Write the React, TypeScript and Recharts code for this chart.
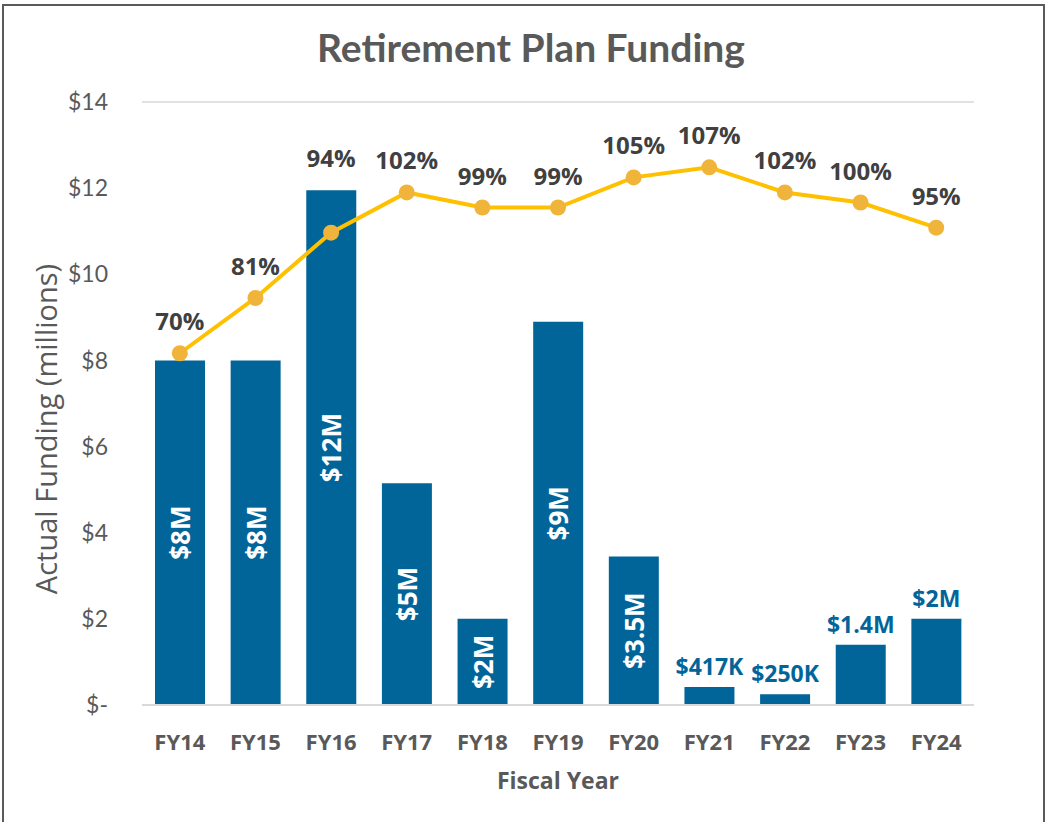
import { Bar, CartesianGrid, ComposedChart, LabelList, Line, XAxis, YAxis } from "recharts";

const years = ["FY14", "FY15", "FY16", "FY17", "FY18", "FY19", "FY20", "FY21", "FY22", "FY23", "FY24"];
const funding = [8, 8, 11.95, 5.15, 2, 8.9, 3.45, 0.417, 0.25, 1.4, 2];
const fundingLabels = ["$8M", "$8M", "$12M", "$5M", "$2M", "$9M", "$3.5M", "$417K", "$250K", "$1.4M", "$2M"];
const fundedPct = [70, 81, 94, 102, 99, 99, 105, 107, 102, 100, 95];
const yTicks = [0, 2, 4, 6, 8, 10, 12, 14];

// first N bars carry their label inside, rotated; the small ones get it on top
const INSIDE_LABELS = 7;
const Y_MAX = 14;
const PCT_MAX = 120;

const BLUE = "#02659A";
const GOLD = "#FFC000";
const DOT = "#F0B43A";
const GREY = "#595959";
const SANS = "'Open Sans', sans-serif";

const W = 1047;
const H = 822;
const M = { top: 102, right: 73, bottom: 45, left: 0 };
const X_AXIS_H = 72;
const PLOT_H = H - M.top - M.bottom - X_AXIS_H;

const data = years.map((fy, i) => ({ fy, funding: funding[i], pct: fundedPct[i] }));

function BarLabel(props: any) {
  const { x, y, width, height, index } = props;
  const text = fundingLabels[index];
  const cx = x + width / 2;
  if (index < INSIDE_LABELS) {
    const cy = y + height / 2;
    return (
      <text
        x={cx}
        y={cy}
        transform={`rotate(-90 ${cx} ${cy})`}
        textAnchor="middle"
        dominantBaseline="central"
        fill="#fff"
        fontFamily={SANS}
        fontWeight={700}
        fontSize={26}
      >
        {text}
      </text>
    );
  }
  return (
    <text x={cx} y={y - 12} textAnchor="middle" fill={BLUE} fontFamily={SANS} fontWeight={700} fontSize={23}>
      {text}
    </text>
  );
}

function PctLabel(props: any) {
  const { x, y, value, index } = props;
  // if the bar reaches above the point, lift the label over the bar
  const lift = Math.max(0, (funding[index] / Y_MAX - value / PCT_MAX) * PLOT_H);
  return (
    <text x={x} y={y - 23 - lift} textAnchor="middle" fill="#404040" fontFamily={SANS} fontWeight={700} fontSize={24}>
      {value}%
    </text>
  );
}

function YTitle() {
  return (
    <text
      x={45}
      y={429}
      transform="rotate(-90 45 429)"
      textAnchor="middle"
      dominantBaseline="central"
      fill={GREY}
      fontFamily={SANS}
      fontSize={29}
    >
      Actual Funding (millions)
    </text>
  );
}

export default function App() {
  return (
    <div style={{ position: "absolute", left: 0, top: 0, width: W, height: H, background: "#fff", overflow: "hidden" }}>
      <div
        style={{
          position: "absolute",
          left: 2,
          top: 4,
          width: 1039,
          height: 840,
          border: "2px solid #5a5a5a",
        }}
      />
      <div
        style={{
          position: "absolute",
          left: 0,
          top: 24,
          width: 1062,
          textAlign: "center",
          fontFamily: "Lato, sans-serif",
          fontWeight: 700,
          fontSize: 39,
          color: GREY,
        }}
      >
        Retirement Plan Funding
      </div>
      <div style={{ position: "absolute", left: 0, top: 0 }}>
        <ComposedChart width={W} height={H} data={data} margin={M}>
          <CartesianGrid vertical={false} stroke="#d9d9d9" strokeWidth={1.5} />
          <XAxis
            dataKey="fy"
            axisLine={{ stroke: "#d9d9d9", strokeWidth: 2 }}
            tickLine={false}
            tick={{ fill: GREY, fontFamily: SANS, fontWeight: 700, fontSize: 22 }}
            tickMargin={23}
            height={X_AXIS_H}
            label={{
              value: "Fiscal Year",
              position: "insideBottom",
              offset: -12,
              fill: GREY,
              fontFamily: SANS,
              fontWeight: 700,
              fontSize: 23,
            }}
          />
          <YAxis
            yAxisId="left"
            domain={[0, Y_MAX]}
            ticks={yTicks}
            width={142}
            axisLine={false}
            tickLine={false}
            tickMargin={28}
            tickFormatter={(v: number) => (v === 0 ? "$-" : `$${v}`)}
            tick={{ fill: GREY, fontFamily: "Lato, sans-serif", fontSize: 23 }}
            label={{ content: YTitle }}
          />
          <YAxis yAxisId="right" orientation="right" domain={[0, PCT_MAX]} hide />
          <Bar yAxisId="left" dataKey="funding" fill={BLUE} barSize={50} isAnimationActive={false}>
            <LabelList dataKey="funding" content={BarLabel} />
          </Bar>
          <Line
            yAxisId="right"
            dataKey="pct"
            stroke={GOLD}
            strokeWidth={4}
            dot={{ r: 8, fill: DOT, stroke: DOT, strokeWidth: 0 }}
            activeDot={false}
            isAnimationActive={false}
          >
            <LabelList dataKey="pct" content={PctLabel} />
          </Line>
        </ComposedChart>
      </div>
    </div>
  );
}
